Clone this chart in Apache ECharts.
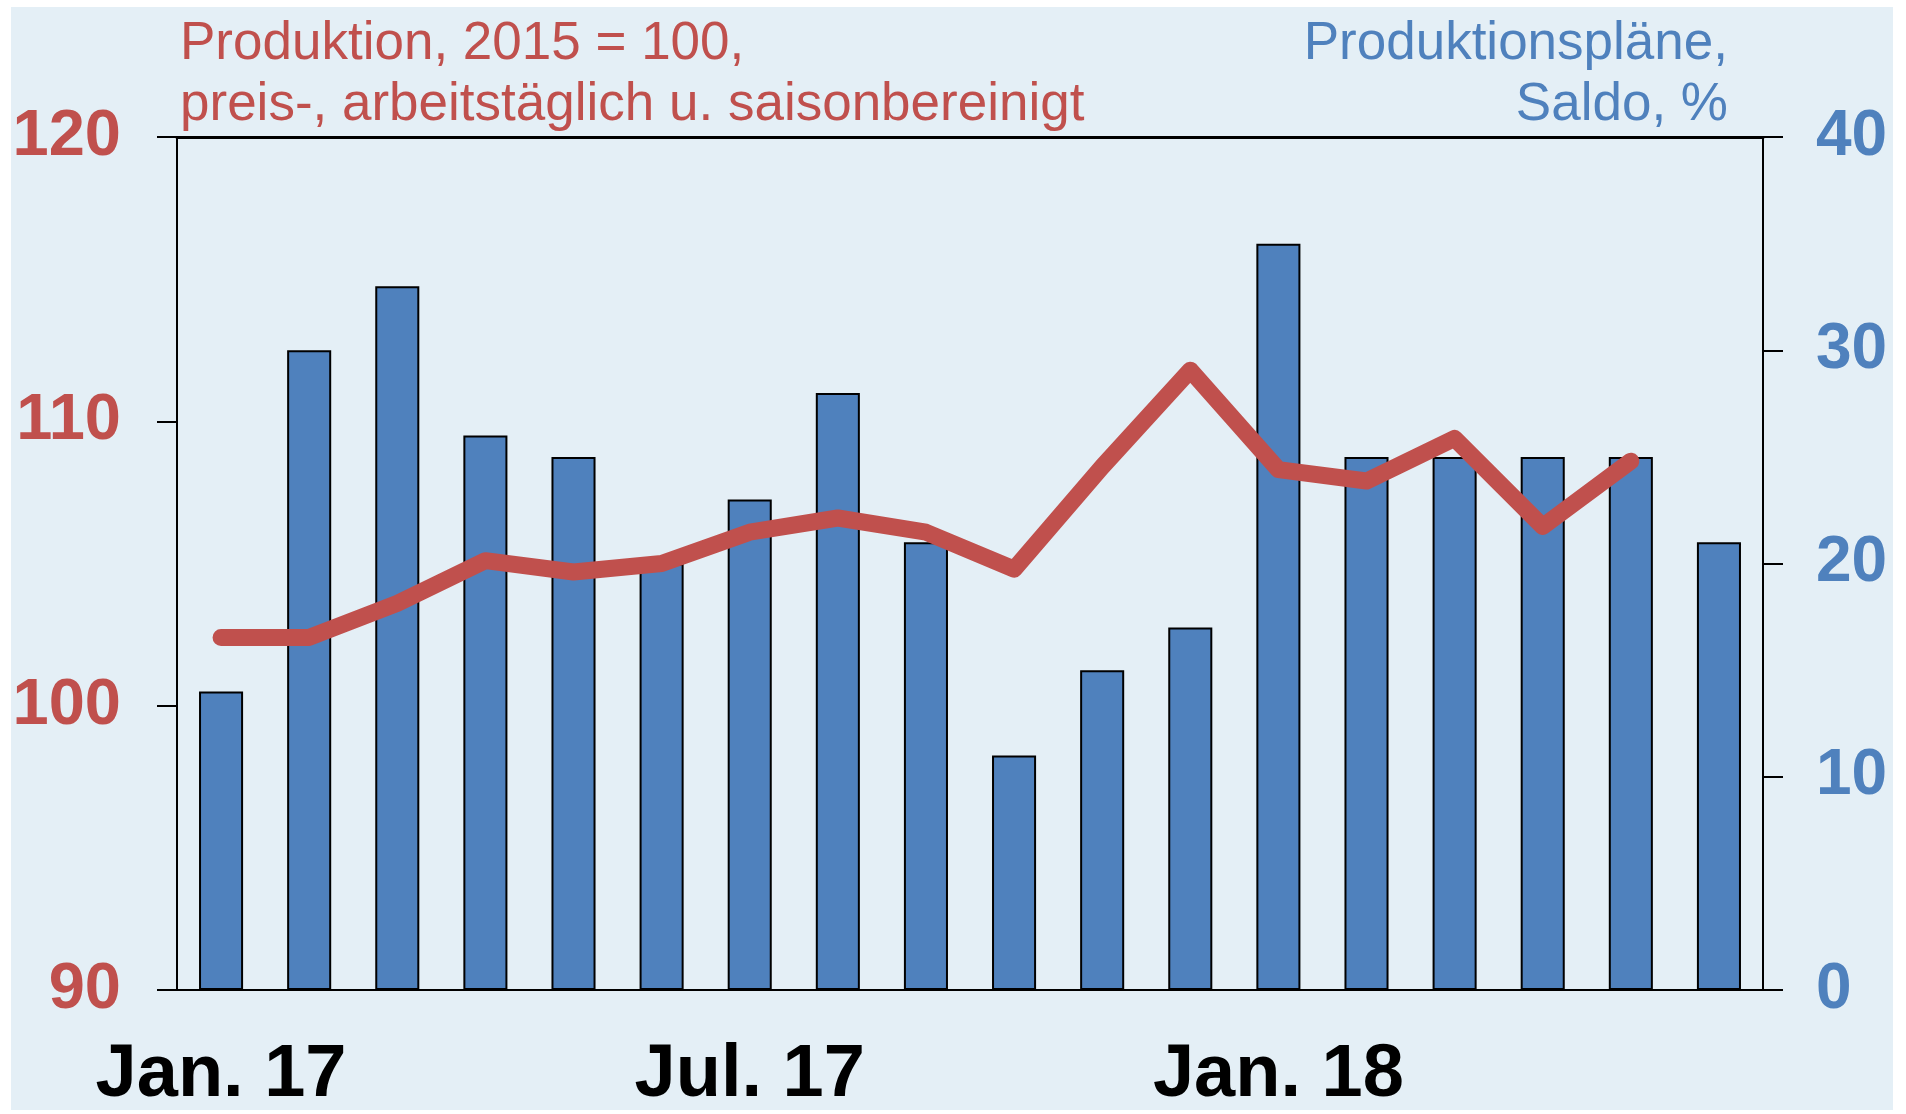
<!DOCTYPE html>
<html>
<head>
<meta charset="utf-8">
<script src="https://cdn.jsdelivr.net/npm/echarts@6/dist/echarts.min.js"></script>
<style>
html,body{margin:0;padding:0;background:#fff;}
#c{width:1906px;height:1114px;}
</style>
</head>
<body>
<div id="c"></div>
<script>
const categories = ['Jan. 17','Feb. 17','Mär. 17','Apr. 17','Mai 17','Jun. 17','Jul. 17','Aug. 17','Sep. 17','Okt. 17','Nov. 17','Dez. 17','Jan. 18','Feb. 18','Mär. 18','Apr. 18','Mai 18','Jun. 18'];
const produktionsplaene = [14, 30, 33, 26, 25, 20, 23, 28, 21, 11, 15, 17, 35, 25, 25, 25, 25, 21];
const produktion = [102.4, 102.4, 103.6, 105.1, 104.7, 105.0, 106.1, 106.6, 106.1, 104.8, 108.4, 111.8, 108.3, 107.9, 109.4, 106.3, 108.6, null];
const leftTicks = {min: 90, max: 120, interval: 10};
const rightTicks = {min: 0, max: 40, interval: 10};
const titleLeft = ['Produktion, 2015 = 100,', 'preis-, arbeitstäglich u. saisonbereinigt'];
const titleRight = ['Produktionspläne,', 'Saldo, %'];

const RED = '#C0504D', BLUE = '#4F81BD', FONT = '"Liberation Sans", Arial, sans-serif';
const chart = echarts.init(document.getElementById('c'));
chart.setOption({
  animation: false,
  backgroundColor: '#ffffff',
  graphic: [{type: 'rect', z: -10, shape: {x: 11, y: 7, width: 1882, height: 1103}, style: {fill: '#E4EFF6'}}],
  title: [
    {text: titleLeft[0], left: 175, top: 13, textStyle: {color: RED, fontSize: 53, fontWeight: 'normal', fontFamily: FONT}},
    {text: titleLeft[1], left: 175, top: 74, textStyle: {color: RED, fontSize: 53, fontWeight: 'normal', fontFamily: FONT}},
    {text: titleRight[0], right: 173, top: 13, textStyle: {color: BLUE, fontSize: 53, fontWeight: 'normal', fontFamily: FONT}},
    {text: titleRight[1], right: 173, top: 74, textStyle: {color: BLUE, fontSize: 53, fontWeight: 'normal', fontFamily: FONT}}
  ],
  grid: {left: 177, right: 143, top: 137, bottom: 124, containLabel: false},
  xAxis: [
    {type: 'category', data: categories, boundaryGap: true, position: 'bottom',
     axisLine: {show: true, lineStyle: {color: '#000', width: 2}},
     axisTick: {show: false},
     axisLabel: {interval: 5, margin: 49, color: '#000', fontSize: 74, fontWeight: 'bold', fontFamily: FONT}},
    {type: 'category', data: categories, position: 'top',
     axisLine: {show: true, lineStyle: {color: '#000', width: 3}},
     axisTick: {show: false}, axisLabel: {show: false}}
  ],
  yAxis: [
    {type: 'value', position: 'left', min: leftTicks.min, max: leftTicks.max, interval: leftTicks.interval,
     axisLine: {show: true, lineStyle: {color: '#000', width: 2}},
     axisTick: {show: true, inside: false, length: 20, lineStyle: {color: '#000', width: 2}},
     splitLine: {show: false},
     axisLabel: {margin: 56, color: RED, fontSize: 65, fontWeight: 'bold', fontFamily: FONT}},
    {type: 'value', position: 'right', min: rightTicks.min, max: rightTicks.max, interval: rightTicks.interval,
     axisLine: {show: true, lineStyle: {color: '#000', width: 2}},
     axisTick: {show: true, inside: false, length: 20, lineStyle: {color: '#000', width: 2}},
     splitLine: {show: false},
     axisLabel: {margin: 53, color: BLUE, fontSize: 64, fontWeight: 'bold', fontFamily: FONT}}
  ],
  series: [
    {type: 'bar', name: 'Produktionspläne', yAxisIndex: 1, xAxisIndex: 0, data: produktionsplaene,
     barWidth: '50%', itemStyle: {color: BLUE, borderColor: '#000', borderWidth: 2}, z: 2},
    {type: 'line', name: 'Produktion', yAxisIndex: 0, xAxisIndex: 0, data: produktion,
     showSymbol: false, symbol: 'none', connectNulls: false,
     lineStyle: {color: RED, width: 17, cap: 'round', join: 'round'}, z: 3}
  ]
});
</script>
</body>
</html>
